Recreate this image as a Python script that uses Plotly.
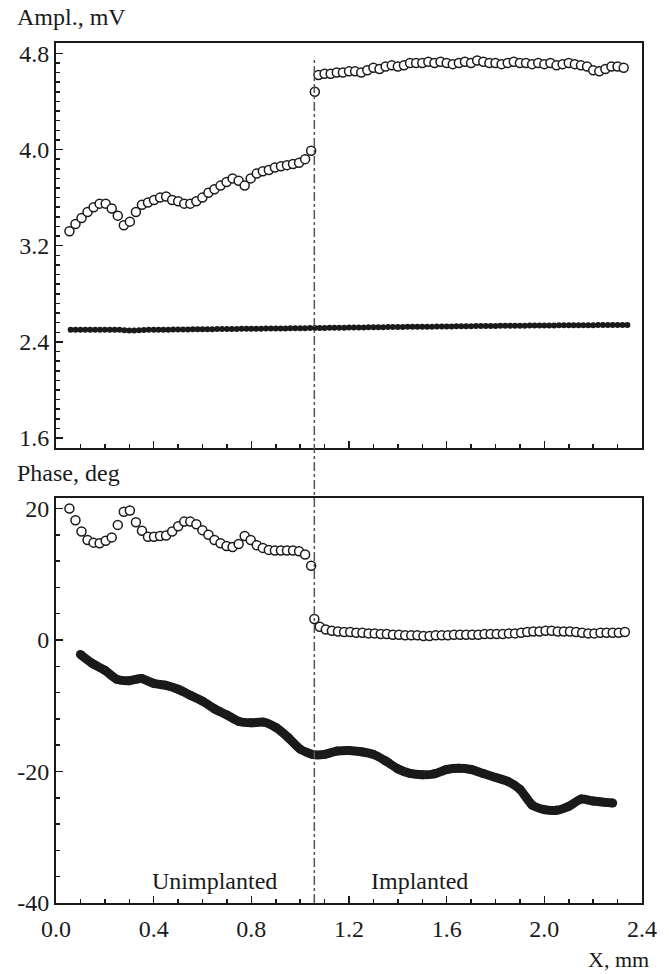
import numpy as np
import plotly.graph_objects as go

# ---------------- data ----------------
# Amplitude, open circles (unimplanted part)
amp_open_x1 = np.linspace(0.055, 1.045, 41)
amp_open_y1 = [3.32, 3.38, 3.43, 3.48, 3.52, 3.55, 3.55, 3.51, 3.45, 3.37,
               3.40, 3.48, 3.54, 3.56, 3.58, 3.60, 3.61, 3.58, 3.57, 3.55,
               3.55, 3.57, 3.60, 3.64, 3.67, 3.70, 3.73, 3.76, 3.74, 3.70,
               3.76, 3.80, 3.82, 3.83, 3.85, 3.86, 3.87, 3.88, 3.89, 3.92, 3.99]
# transition point
amp_trans_x = [1.06]
amp_trans_y = [4.48]
# Amplitude, open circles (implanted part)
amp_open_x2 = np.linspace(1.075, 2.325, 51)
amp_open_y2 = [4.62, 4.63, 4.63, 4.64, 4.64, 4.65, 4.65, 4.64, 4.66, 4.68,
               4.67, 4.69, 4.70, 4.69, 4.70, 4.72, 4.72, 4.72, 4.73, 4.72,
               4.73, 4.72, 4.71, 4.72, 4.73, 4.72, 4.74, 4.73, 4.72, 4.72,
               4.71, 4.72, 4.73, 4.72, 4.72, 4.71, 4.72, 4.71, 4.72, 4.70,
               4.71, 4.72, 4.71, 4.70, 4.69, 4.66, 4.65, 4.67, 4.69, 4.69, 4.68]
# Amplitude, filled dots
amp_fill_x = np.linspace(0.06, 2.34, 115)
amp_fill_y = [2.500, 2.500, 2.500, 2.500, 2.500, 2.500, 2.500, 2.500, 2.500, 2.500,
              2.500, 2.497, 2.495, 2.495, 2.496, 2.498, 2.500, 2.500, 2.501, 2.502,
              2.502, 2.503, 2.503, 2.504, 2.504, 2.505, 2.505, 2.505, 2.506, 2.506,
              2.507, 2.507, 2.508, 2.508, 2.508, 2.509, 2.509, 2.510, 2.510, 2.510,
              2.511, 2.511, 2.512, 2.512, 2.512, 2.513, 2.513, 2.514, 2.514, 2.515,
              2.515, 2.516, 2.516, 2.517, 2.517, 2.518, 2.518, 2.519, 2.519, 2.520,
              2.520, 2.521, 2.521, 2.522, 2.522, 2.523, 2.523, 2.524, 2.524, 2.525,
              2.525, 2.526, 2.526, 2.527, 2.527, 2.528, 2.528, 2.529, 2.529, 2.530,
              2.530, 2.531, 2.531, 2.532, 2.532, 2.533, 2.533, 2.533, 2.534, 2.534,
              2.534, 2.535, 2.535, 2.535, 2.536, 2.536, 2.536, 2.537, 2.537, 2.537,
              2.538, 2.538, 2.538, 2.538, 2.539, 2.539, 2.539, 2.539, 2.540, 2.540,
              2.540, 2.540, 2.540, 2.540, 2.540]

# Phase, open circles (unimplanted part)
ph_open_x1 = np.linspace(0.055, 1.045, 41)
ph_open_y1 = [20.0, 18.2, 16.5, 15.2, 14.8, 14.7, 15.1, 15.6, 17.5, 19.5,
              19.7, 17.9, 16.6, 15.7, 15.7, 15.8, 15.9, 16.5, 17.3, 18.0,
              18.0, 17.6, 16.7, 16.0, 15.2, 14.7, 14.3, 14.15, 14.6, 15.8,
              15.2, 14.4, 14.0, 13.7, 13.6, 13.6, 13.6, 13.6, 13.5, 13.0, 11.3]
ph_trans_x = [1.058]
ph_trans_y = [3.2]
# Phase, open circles (implanted part)
ph_open_x2 = np.linspace(1.08, 2.33, 51)
ph_open_y2 = [2.0, 1.6, 1.4, 1.3, 1.2, 1.2, 1.1, 1.1, 1.0, 1.0,
              0.9, 0.9, 0.8, 0.8, 0.7, 0.7, 0.7, 0.6, 0.6, 0.7,
              0.7, 0.7, 0.8, 0.8, 0.8, 0.8, 0.8, 0.9, 0.9, 0.9,
              0.9, 1.0, 1.0, 1.1, 1.2, 1.3, 1.3, 1.4, 1.4, 1.3,
              1.3, 1.3, 1.2, 1.1, 1.0, 1.0, 1.1, 1.1, 1.1, 1.1, 1.2]
# Phase, filled curve
ph_fill_x = [0.10, 0.15, 0.20, 0.25, 0.30, 0.35, 0.40, 0.45, 0.50, 0.55,
             0.60, 0.65, 0.70, 0.75, 0.80, 0.85, 0.90, 0.95, 1.00, 1.05,
             1.10, 1.15, 1.20, 1.25, 1.30, 1.35, 1.40, 1.45, 1.50, 1.55,
             1.60, 1.65, 1.70, 1.75, 1.80, 1.85, 1.90, 1.95, 2.00, 2.05,
             2.10, 2.15, 2.20, 2.25, 2.28]
ph_fill_y = [-2.2, -3.6, -4.6, -6.0, -6.2, -5.85, -6.6, -6.9, -7.5, -8.4,
             -9.3, -10.5, -11.4, -12.4, -12.6, -12.5, -13.3, -14.8, -16.6, -17.4,
             -17.4, -16.9, -16.8, -17.0, -17.4, -18.4, -19.6, -20.3, -20.5, -20.35,
             -19.7, -19.5, -19.7, -20.3, -20.9, -21.5, -22.7, -25.1, -25.8, -25.9,
             -25.3, -24.2, -24.5, -24.7, -24.8]

x_ticks = [0.0, 0.4, 0.8, 1.2, 1.6, 2.0, 2.4]
x_ticktext = ["0.0", "0.4", "0.8", "1.2", "1.6", "2.0", "2.4"]
amp_ticks = [1.6, 2.4, 3.2, 4.0, 4.8]
amp_ticktext = ["1.6", "2.4", "3.2", "4.0", "4.8"]
ph_ticks = [-40, -20, 0, 20]
ph_ticktext = ["-40", "-20", "0", "20"]
boundary_x = 1.058

# ---------------- figure ----------------
FONT = "Liberation Serif"
INK = "#1a1a1a"
FS = 24
open_marker = dict(symbol="circle", size=9, color="white",
                   line=dict(color=INK, width=1.5))

fig = go.Figure()
for xs, ys in [(amp_open_x1, amp_open_y1), (amp_trans_x, amp_trans_y),
               (amp_open_x2, amp_open_y2)]:
    fig.add_trace(go.Scatter(x=xs, y=ys, mode="markers", marker=open_marker,
                             xaxis="x2", yaxis="y2", showlegend=False))
fig.add_trace(go.Scatter(x=amp_fill_x, y=amp_fill_y, mode="markers",
                         marker=dict(symbol="circle", size=6, color=INK),
                         xaxis="x2", yaxis="y2", showlegend=False))

for xs, ys in [(ph_open_x1, ph_open_y1), (ph_trans_x, ph_trans_y),
               (ph_open_x2, ph_open_y2)]:
    fig.add_trace(go.Scatter(x=xs, y=ys, mode="markers", marker=open_marker,
                             xaxis="x", yaxis="y", showlegend=False))
fig.add_trace(go.Scatter(x=ph_fill_x, y=ph_fill_y, mode="lines+markers",
                         line=dict(color=INK, width=9, shape="spline", smoothing=0.6),
                         marker=dict(symbol="circle", size=9, color=INK),
                         xaxis="x", yaxis="y", showlegend=False))

tick_common = dict(ticks="inside", ticklen=7, tickwidth=1.5, tickcolor=INK,
                   showgrid=False, zeroline=False,
                   tickfont=dict(family=FONT, size=FS, color=INK))
line_common = dict(showline=True, linewidth=2, linecolor=INK, mirror=True)
x_minor = dict(dtick=0.1, tick0=0, ticks="inside", ticklen=4, tickwidth=1.5, tickcolor=INK)
amp_minor = dict(dtick=0.08, tick0=1.6, ticks="inside", ticklen=4, tickwidth=1.5, tickcolor=INK)
ph_minor = dict(dtick=4, tick0=0, ticks="inside", ticklen=4, tickwidth=1.5, tickcolor=INK)

X_RANGE = [0, 2.4]
PH_RANGE = [-40, 21.6]
AMP_RANGE = [1.517, 4.886]
PH_DOM = [0, 0.471]
AMP_DOM = [0.529, 1]

fig.update_layout(
    width=669, height=974,
    margin=dict(l=56, r=25, t=43, b=71),
    paper_bgcolor="white", plot_bgcolor="white",
    font=dict(family=FONT, color=INK),
    xaxis=dict(domain=[0, 1], anchor="y", range=X_RANGE,
               tickmode="array", tickvals=x_ticks, ticktext=x_ticktext,
               minor=x_minor, ticklabelstandoff=3, **tick_common, **line_common),
    yaxis=dict(domain=PH_DOM, anchor="x", range=PH_RANGE,
               tickmode="array", tickvals=ph_ticks, ticktext=ph_ticktext,
               minor=ph_minor, **tick_common, **line_common),
    xaxis2=dict(domain=[0, 1], anchor="y2", range=X_RANGE,
                tickmode="array", tickvals=x_ticks, showticklabels=False,
                minor=x_minor, **tick_common, **line_common),
    yaxis2=dict(domain=AMP_DOM, anchor="x2", range=AMP_RANGE,
                tickmode="array", tickvals=amp_ticks, ticktext=amp_ticktext,
                minor=amp_minor, **tick_common, **line_common),
    xaxis3=dict(overlaying="x", anchor="y", side="top", range=X_RANGE,
                tickmode="array", tickvals=x_ticks, showticklabels=False,
                minor=x_minor, showline=False, **tick_common),
    yaxis3=dict(overlaying="y", anchor="x", side="right", range=PH_RANGE,
                tickmode="array", tickvals=ph_ticks, showticklabels=False,
                minor=ph_minor, showline=False, **tick_common),
    xaxis4=dict(overlaying="x2", anchor="y2", side="top", range=X_RANGE,
                tickmode="array", tickvals=x_ticks, showticklabels=False,
                minor=x_minor, showline=False, **tick_common),
    yaxis4=dict(overlaying="y2", anchor="x2", side="right", range=AMP_RANGE,
                tickmode="array", tickvals=amp_ticks, showticklabels=False,
                minor=amp_minor, showline=False, **tick_common),
)

# boundary line between unimplanted and implanted regions
fig.add_shape(type="line", xref="x", yref="paper", x0=boundary_x, x1=boundary_x,
              y0=0, y1=0.984, line=dict(color="#555555", width=1.5, dash="dashdot"))

txt = dict(family=FONT, size=FS, color=INK)
fig.add_annotation(text="Ampl., mV", xref="paper", yref="paper", x=-0.068, y=1.0,
                   xanchor="left", yanchor="middle", yshift=26, borderpad=0,
                   showarrow=False, font=txt)
fig.add_annotation(text="Phase, deg", xref="paper", yref="paper", x=-0.068, y=0.471,
                   xanchor="left", yanchor="middle", yshift=25, borderpad=0,
                   showarrow=False, font=txt)
fig.add_annotation(text="X, mm", xref="paper", yref="paper", x=1.014, y=0,
                   xanchor="right", yanchor="bottom", yshift=-70, borderpad=0,
                   showarrow=False, font=dict(family=FONT, size=22, color=INK))
fig.add_annotation(text="Unimplanted", xref="x", yref="y", x=0.651, y=-36.6,
                   showarrow=False, font=txt)
fig.add_annotation(text="Implanted", xref="x", yref="y", x=1.488, y=-36.6,
                   showarrow=False, font=txt)

# remove the browser's default 8 px page margin so the figure fills the window
fig.write_html("out.html",
               config={"displayModeBar": False, "staticPlot": True},
               post_script="document.body.style.margin='0px';"
                           "document.body.style.overflow='hidden';")
